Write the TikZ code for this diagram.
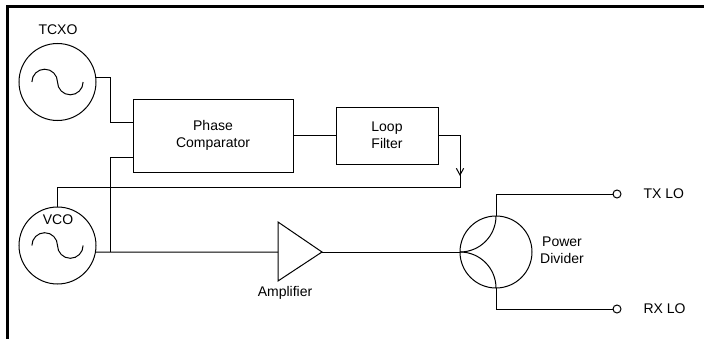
\documentclass[tikz,border=0pt]{standalone}
\usepackage{fontspec}
\setmainfont{Liberation Sans}
\usetikzlibrary{arrows.meta}
\begin{document}
\begin{tikzpicture}[x=0.75pt,y=-0.75pt,
  line width=0.75pt,
  every node/.style={font=\fontsize{10.5}{12.75}\selectfont},
  osc/.style={draw,circle,minimum size=57.75pt,inner sep=0pt,outer sep=0pt},
  blockbox/.style={draw,rectangle,inner sep=0pt,outer sep=0pt,align=center},
  port/.style={draw,circle,minimum size=6pt,inner sep=0pt,outer sep=0pt},
  lbl/.style={inner sep=0pt,align=center}]
\useasboundingbox (0,0) rectangle (704,339);
% frame
\draw[line width=2.25pt] (704,6.5) -- (7.5,6.5) -- (7.5,339);

% oscillators
\node[osc] (tcxo) at (57.5,82) {};
\node[osc] (vco) at (57.5,245.5) {};
\node[lbl] (tcxolbl) at (58,30) {TCXO};
\node[lbl] (vcolbl) at (58,220) {VCO};
% sine waves
\draw ([xshift=-19.2pt]tcxo.center) arc[start angle=180,end angle=360,radius=12.8]
      arc[start angle=180,end angle=0,radius=12.8];
\draw ([xshift=-19.2pt]vco.center) arc[start angle=180,end angle=360,radius=12.8]
      arc[start angle=180,end angle=0,radius=12.8];

% blocks
\node[blockbox,minimum width=120pt,minimum height=54.75pt] (pc) at (213,135.5) {Phase\\Comparator};
\node[blockbox,minimum width=76.5pt,minimum height=42.75pt] (lf) at (387,135.5) {Loop\\Filter};

% amplifier
\coordinate (ampin) at (278,252);
\coordinate (ampout) at (322,252);
\draw (278,222) -- (ampout) -- (278,281) -- cycle;
\node[lbl] (amplbl) at (285,293) {Amplifier};

% power divider
\node[osc,minimum size=54pt] (pd) at (496,252) {};
\draw (pd.west) arc[start angle=90,end angle=0,radius=36];
\draw (pd.west) arc[start angle=-90,end angle=0,radius=36];
\node[lbl] (pdlbl) at (562,250) {Power\\Divider};

% ports
\node[port] (tx) at (617,194) {};
\node[port] (rx) at (617,309) {};
\node[lbl,anchor=west] (txlbl) at (643,194) {TX LO};
\node[lbl,anchor=west] (rxlbl) at (643,309) {RX LO};

% connections
\coordinate (j1) at (110,122);
\draw (tcxo.6) -| (j1) -- (j1 -| pc.west);
\coordinate (j2) at (110,157);
\coordinate (j3) at (110,252);
\draw (vco.-10) -- (ampin);
\draw (j3) -- (j2) -- (j2 -| pc.west);
\draw (pc.east) -- (lf.west);
\coordinate (fb) at (460,187);
\draw[-{Straight Barb[length=5pt,width=5.5pt]}] (lf.east) -| (460,176);
\draw (460,172) -- (fb) -| (vco.north);
\draw (ampout) -- (pd.west);
\draw (pd.north) |- (tx.west);
\draw (pd.south) |- (rx.west);
\end{tikzpicture}
\end{document}
